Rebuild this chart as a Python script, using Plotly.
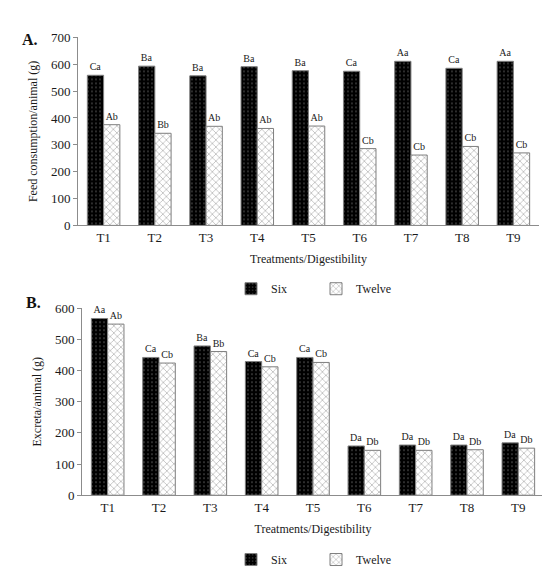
import plotly.graph_objects as go

treatments = ['T1', 'T2', 'T3', 'T4', 'T5', 'T6', 'T7', 'T8', 'T9']

# A. feed consumption per animal (g)
feed_six = [559, 593, 557, 591, 576, 574, 611, 585, 611]
feed_twelve = [375, 343, 369, 361, 370, 286, 262, 294, 270]
feed_six_lbl = ['Ca', 'Ba', 'Ba', 'Ba', 'Ba', 'Ca', 'Aa', 'Ca', 'Aa']
feed_twelve_lbl = ['Ab', 'Bb', 'Ab', 'Ab', 'Ab', 'Cb', 'Cb', 'Cb', 'Cb']

# B. excreta per animal (g)
exc_six = [567, 442, 479, 429, 442, 158, 161, 161, 168]
exc_twelve = [549, 424, 461, 412, 426, 144, 144, 146, 151]
exc_six_lbl = ['Aa', 'Ca', 'Ba', 'Ca', 'Ca', 'Da', 'Da', 'Da', 'Da']
exc_twelve_lbl = ['Ab', 'Cb', 'Bb', 'Cb', 'Cb', 'Db', 'Db', 'Db', 'Db']

FONT = 'Liberation Serif'
TXT = '#1a1a1a'
six_style = dict(color='black', line=dict(color='#7f7f7f', width=1),
                 pattern=dict(shape='.', fgcolor='#d0d0d0', bgcolor='black', size=4, solidity=0.12))
twelve_style = dict(color='white', line=dict(color='#7f7f7f', width=1),
                    pattern=dict(shape='x', fgcolor='#333333', bgcolor='white', size=5, solidity=0.2))

fig = go.Figure()

def add_pair(six, twelve, six_lbl, twelve_lbl, xa, ya, legend):
    lbl_font = dict(size=10, family=FONT, color=TXT)
    fig.add_trace(go.Bar(x=treatments, y=six, name='Six', marker=six_style,
                         text=six_lbl, textposition='outside', cliponaxis=False,
                         outsidetextfont=lbl_font, textfont=lbl_font,
                         xaxis=xa, yaxis=ya, legend=legend))
    fig.add_trace(go.Bar(x=treatments, y=twelve, name='Twelve', marker=twelve_style,
                         text=twelve_lbl, textposition='outside', cliponaxis=False,
                         outsidetextfont=lbl_font, textfont=lbl_font,
                         xaxis=xa, yaxis=ya, legend=legend))

add_pair(feed_six, feed_twelve, feed_six_lbl, feed_twelve_lbl, 'x', 'y', 'legend')
add_pair(exc_six, exc_twelve, exc_six_lbl, exc_twelve_lbl, 'x2', 'y2', 'legend2')

axis_common = dict(showline=True, linecolor='#8c8c8c', linewidth=1, showgrid=False,
                   tickfont=dict(size=13, family=FONT, color=TXT), zeroline=False)
xtitle = dict(text='Treatments/Digestibility', font=dict(size=12, color=TXT), standoff=10)
legend_common = dict(orientation='h', x=0.56, xanchor='center', yanchor='middle',
                     font=dict(size=12, family=FONT, color=TXT),
                     entrywidth=40, entrywidthmode='pixels', tracegroupgap=0)

fig.update_layout(
    width=550, height=579,
    margin=dict(l=0, r=0, t=0, b=0),
    plot_bgcolor='white', paper_bgcolor='white',
    barmode='group', bargap=0.365, bargroupgap=0,
    font=dict(family=FONT, color=TXT),
    xaxis=dict(domain=[70 / 550, 531 / 550], anchor='y', ticks='', **axis_common, title=xtitle),
    yaxis=dict(domain=[1 - 216 / 579, 1 - 23 / 579], anchor='x', range=[0, 700], dtick=100,
               ticks='outside', ticklen=4, tickcolor='#8c8c8c', **axis_common,
               title=dict(text='Feed consumption/animal (g)', font=dict(size=12, color=TXT), standoff=10)),
    xaxis2=dict(domain=[74 / 550, 536 / 550], anchor='y2', ticks='', **axis_common, title=xtitle),
    yaxis2=dict(domain=[1 - 493 / 579, 1 - 301 / 579], anchor='x2', range=[0, 600], dtick=100,
                ticks='outside', ticklen=4, tickcolor='#8c8c8c', **axis_common,
                title=dict(text='Excreta/animal (g)', font=dict(size=12, color=TXT), standoff=10)),
    legend=dict(y=1 - 281 / 579, **legend_common),
    legend2=dict(y=1 - 559 / 579, **legend_common),
    annotations=[
        dict(text='<b>A.</b>', x=12 / 550, y=1 - 25 / 579, xref='paper', yref='paper',
             xanchor='left', yanchor='middle', showarrow=False, font=dict(size=16, family=FONT, color='#111')),
        dict(text='<b>B.</b>', x=16 / 550, y=1 - 295 / 579, xref='paper', yref='paper',
             xanchor='left', yanchor='middle', showarrow=False, font=dict(size=16, family=FONT, color='#111')),
    ],
)

fig.write_html('out.html')
